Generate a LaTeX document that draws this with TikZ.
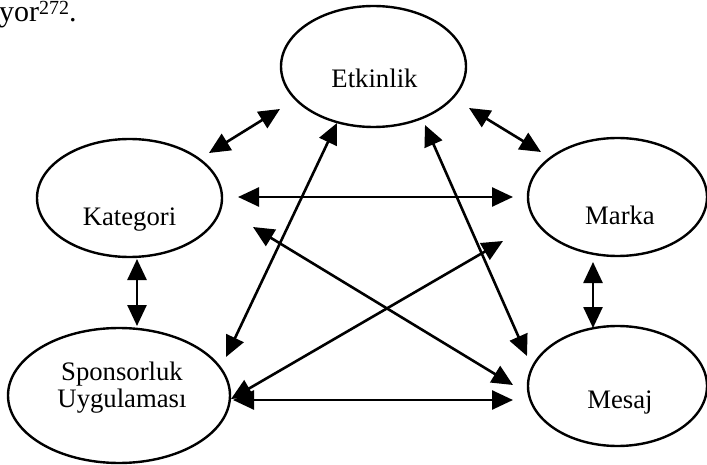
\documentclass[tikz,border=0pt]{standalone}
\usepackage{fontspec}
\setmainfont{Liberation Serif}
\usetikzlibrary{shapes.geometric,arrows.meta}
\begin{document}
\begin{tikzpicture}[x=1pt,y=-1pt,
  oval/.style={ellipse,draw,line width=2.4pt,inner sep=0pt},
  lbl/.style={anchor=base,font=\fontsize{26.7}{28}\selectfont,inner sep=0pt},
  link/.style={line width=2.6pt,{Triangle[length=21pt,width=19pt]}-{Triangle[length=21pt,width=19pt]}}]
\useasboundingbox (0,0) rectangle (707,465);
% top-left text fragment
\node[anchor=base west,inner sep=0pt,font=\fontsize{30}{32}\selectfont] (frag) at (-1,22) {yor\raisebox{7pt}{\fontsize{20}{20}\selectfont 272}.};
% ellipses
\node[oval,minimum width=185pt,minimum height=121pt] (etk) at (373.5,66.5) {};
\node[oval,minimum width=185pt,minimum height=118pt] (kat) at (129.5,198) {};
\node[oval,minimum width=179pt,minimum height=118pt] (mar) at (617.5,197) {};
\node[oval,minimum width=222pt,minimum height=135pt] (spo) at (119,395.5) {};
\node[oval,minimum width=179pt,minimum height=120pt] (mes) at (617.5,386) {};
% labels
\node[lbl] (etkT) at (374.5,88) {Etkinlik};
\node[lbl] (katT) at (129.5,226) {Kategori};
\node[lbl] (marT) at (620,225) {Marka};
\node[lbl] (spoT1) at (122,380) {Sponsorluk};
\node[lbl] (spoT2) at (122,407) {Uygulaması};
\node[lbl] (mesT) at (620,408) {Mesaj};
% arrow end points
\coordinate (etkA) at (280,109);   \coordinate (katA) at (209,153);
\coordinate (etkB) at (469,108);   \coordinate (marA) at (541,152);
\coordinate (katB) at (238,197);   \coordinate (marB) at (513,197);
\coordinate (katC) at (137,259);   \coordinate (spoA) at (137,326);
\coordinate (marC) at (593,262);   \coordinate (mesA) at (593,328);
\coordinate (etkC) at (337,123);   \coordinate (spoB) at (226,357);
\coordinate (etkD) at (425,125);   \coordinate (mesB) at (527,356);
\coordinate (katD) at (253,227);   \coordinate (mesC) at (513,385);
\coordinate (marD) at (503,241);   \coordinate (spoC) at (231,399);
\coordinate (spoD) at (233,400);   \coordinate (mesD) at (513,400);
% connectors
\draw[link] (etkA) -- (katA);
\draw[link] (etkB) -- (marA);
\draw[link] (katB) -- (marB);
\draw[link] (katC) -- (spoA);
\draw[link] (marC) -- (mesA);
\draw[link] (etkC) -- (spoB);
\draw[link] (etkD) -- (mesB);
\draw[link] (katD) -- (mesC);
\draw[link] (marD) -- (spoC);
\draw[link] (spoD) -- (mesD);
\end{tikzpicture}
\end{document}
